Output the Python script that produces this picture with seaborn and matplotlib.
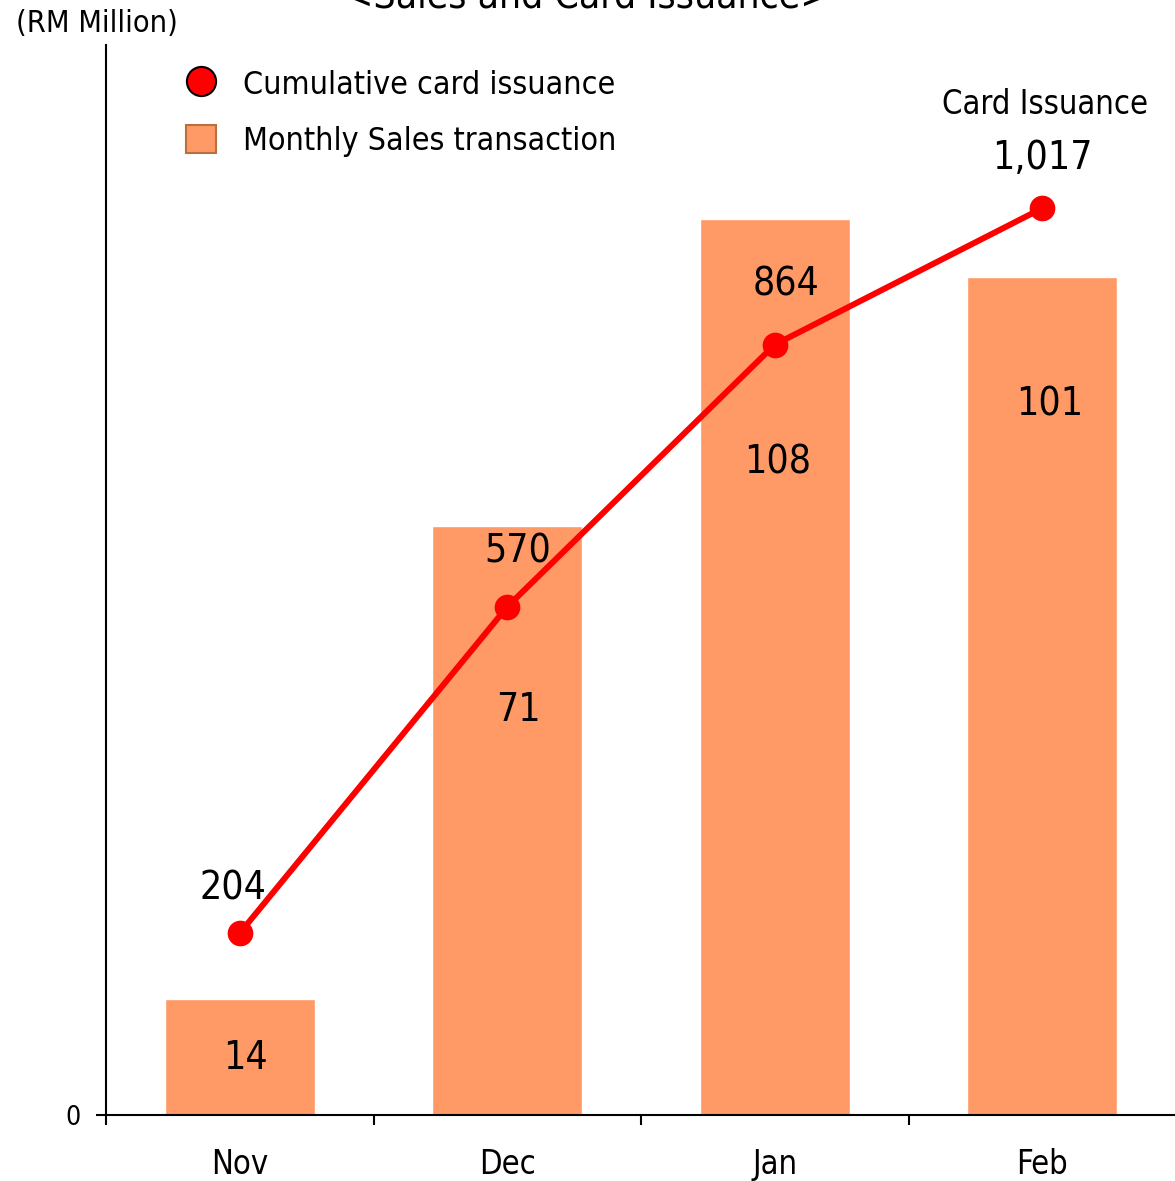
import matplotlib
matplotlib.use("Agg")
import matplotlib.pyplot as plt
import seaborn as sns
import numpy as np
import pandas as pd
from matplotlib.lines import Line2D
from matplotlib.patches import Patch
from matplotlib.ticker import FixedLocator

# ---- Data -------------------------------------------####
months = ['Nov', 'Dec', 'Jan', 'Feb']
monthly_sales = [14, 71, 108, 101]          # RM million
cumulative_cards = [204, 570, 864, 1017]    # card issuance ('000)
card_labels = ['204', '570', '864', '1,017']

# label placement (layout only)
sales_label_y = [6.9, 48.8, 78.7, 85.7]
sales_label_dx = [6, 11, 3, 7]
card_label_dx = [-7, 10, 11, 0]
card_label_dy = [45, 55, 60, 50]

bar_color = '#FF9966'
line_color = '#FF0000'

# ---- Plot -------------------------------------------####
sns.set_style('white')
plt.rcParams['font.family'] = ['DejaVu Sans']
plt.rcParams['font.stretch'] = 'condensed'
plt.rcParams['text.color'] = 'black'
plt.rcParams['xtick.color'] = 'black'
plt.rcParams['ytick.color'] = 'black'

df = pd.DataFrame({'month': months, 'sales': monthly_sales, 'cards': cumulative_cards})
df['pos'] = np.arange(len(df))

fig = plt.figure(figsize=(11.75, 11.81), dpi=100)
ax = fig.add_axes([106 / 1175, 1 - 1115 / 1181, 1 - 106 / 1175 + 0.001, (1115 - 45) / 1181])

sns.barplot(data=df, x='month', y='sales', color=bar_color, saturation=1, width=0.56, ax=ax)
ax.set_xlim(-0.5, 3.5)
ax.set_ylim(0, 129)

ax2 = ax.twinx()
sns.lineplot(data=df, x='pos', y='cards', color=line_color, linewidth=4.3, marker='o',
             markersize=18.5, markeredgewidth=0, ax=ax2)
ax2.set_ylim(0, 1200)
ax2.set_xlim(-0.5, 3.5)
ax2.axis('off')

# spines and ticks
for side in ['top', 'right']:
    ax.spines[side].set_visible(False)
for side in ['left', 'bottom']:
    ax.spines[side].set_color('black')
    ax.spines[side].set_linewidth(1.5)

ax.set_xlabel('')
ax.set_ylabel('')
ax.set_yticks([0])
ax.set_yticklabels(['0'], fontsize=19)
ax.tick_params(axis='y', direction='out', length=7, width=1.5, pad=11, left=True)
ax.set_xticks(df['pos'])
ax.set_xticklabels(months, fontsize=23.5)
ax.tick_params(axis='x', which='major', length=0, pad=24)
ax.xaxis.set_minor_locator(FixedLocator([-0.5, 0.5, 1.5, 2.5]))
ax.tick_params(axis='x', which='minor', direction='out', length=7, width=1.5, bottom=True)

# bar value labels
for i, v in enumerate(monthly_sales):
    ax.annotate(str(v), xy=(i, sales_label_y[i]), xytext=(sales_label_dx[i], 0),
                textcoords='offset pixels', ha='center', va='center', fontsize=28)

# line value labels
for i, v in enumerate(cumulative_cards):
    ax2.annotate(card_labels[i], xy=(i, v), xytext=(card_label_dx[i], card_label_dy[i]),
                 textcoords='offset pixels', ha='center', va='center', fontsize=28)
ax2.annotate('Card Issuance', xy=(3, cumulative_cards[3]), xytext=(3, 104),
             textcoords='offset pixels', ha='center', va='center', fontsize=23.5)

# legend
handles = [
    Line2D([], [], linestyle='none', marker='o', markersize=21, markerfacecolor=line_color,
           markeredgecolor='black', markeredgewidth=1.5),
    Patch(facecolor=bar_color, edgecolor='#B8703F', linewidth=1.5),
]
ax.legend(handles, ['Cumulative card issuance', 'Monthly Sales transaction'],
          loc='upper left', bbox_to_anchor=(157 / 1175, 1 - 40 / 1181), bbox_transform=fig.transFigure,
          frameon=False, fontsize=23, handlelength=0.95, handleheight=0.95, handletextpad=0.85,
          labelspacing=0.78)

fig.text(97 / 1175, 1 - 24 / 1181, '(RM Million)', ha='center', va='center', fontsize=22)
fig.text(587 / 1175, 1 - 8 / 1181, '<Sales and Card Issuance>', ha='center', va='baseline', fontsize=28)

plt.savefig('out.png', dpi=100)
